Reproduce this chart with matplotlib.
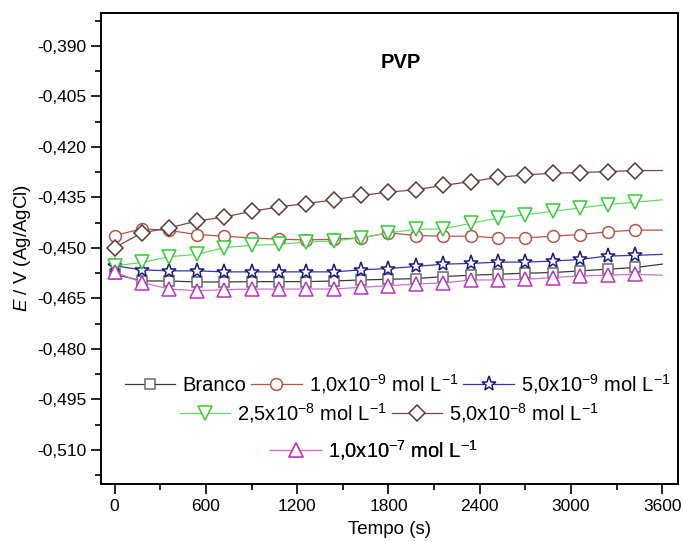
import matplotlib
matplotlib.use('Agg')
import matplotlib.pyplot as plt
from matplotlib.ticker import MultipleLocator, FuncFormatter

plt.rcParams['font.family'] = ['Liberation Sans', 'DejaVu Sans']
plt.rcParams['mathtext.fontset'] = 'custom'
plt.rcParams['mathtext.rm'] = 'Liberation Sans'
plt.rcParams['mathtext.it'] = 'Liberation Sans:italic'

# time (s), one reading every 180 s
tempo = [0, 180, 360, 540, 720, 900, 1080, 1260, 1440, 1620, 1800,
         1980, 2160, 2340, 2520, 2700, 2880, 3060, 3240, 3420, 3600]

branco = [-0.4578, -0.4598, -0.4598, -0.4601, -0.4601, -0.4600, -0.4600,
          -0.4600, -0.4598, -0.4595, -0.4593, -0.4591, -0.4585, -0.4581,
          -0.4578, -0.4575, -0.4573, -0.4568, -0.4563, -0.4558, -0.4548]
c_1e9 = [-0.4463, -0.4443, -0.4448, -0.4460, -0.4465, -0.4470, -0.4474,
         -0.4476, -0.4474, -0.4470, -0.4455, -0.4463, -0.4465, -0.4465,
         -0.4470, -0.4470, -0.4465, -0.4460, -0.4452, -0.4447, -0.4447]
c_5e9 = [-0.4553, -0.4565, -0.4568, -0.4568, -0.4571, -0.4571, -0.4571,
         -0.4571, -0.4571, -0.4565, -0.4561, -0.4555, -0.4548, -0.4546,
         -0.4542, -0.4542, -0.4539, -0.4534, -0.4524, -0.4522, -0.4519]
c_25e8 = [-0.4553, -0.4543, -0.4526, -0.4519, -0.4499, -0.4492, -0.4489,
          -0.4482, -0.4479, -0.4470, -0.4455, -0.4445, -0.4443, -0.4427,
          -0.4411, -0.4401, -0.4391, -0.4381, -0.4371, -0.4364, -0.4357]
c_5e8 = [-0.4499, -0.4455, -0.4440, -0.4420, -0.4408, -0.4391, -0.4378,
         -0.4368, -0.4357, -0.4344, -0.4334, -0.4327, -0.4314, -0.4303,
         -0.4290, -0.4283, -0.4278, -0.4276, -0.4273, -0.4270, -0.4270]
c_1e7 = [-0.4571, -0.4603, -0.4622, -0.4627, -0.4624, -0.4622, -0.4622,
         -0.4622, -0.4622, -0.4617, -0.4612, -0.4607, -0.4604, -0.4595,
         -0.4595, -0.4593, -0.4588, -0.4583, -0.4581, -0.4578, -0.4581]

labels = ['Branco',
          '1,0x10$^{-9}$ mol L$^{-1}$',
          '5,0x10$^{-9}$ mol L$^{-1}$',
          '2,5x10$^{-8}$ mol L$^{-1}$',
          '5,0x10$^{-8}$ mol L$^{-1}$',
          '1,0x10$^{-7}$ mol L$^{-1}$']

fig = plt.figure(figsize=(6.83, 5.42), dpi=100)
ax = fig.add_axes([0.1474, 0.1065, 0.8446, 0.8701])

series = [
    (branco, 's', '#3a3a3a', '#6a6a6a', 7.5),
    (c_1e9, 'o', '#b5564a', '#b5564a', 8.5),
    (c_5e9, '*', '#3838a0', '#1a1a80', 11),
    (c_25e8, 'v', '#66dd66', '#33cc33', 10),
    (c_5e8, 'D', '#7a4a40', '#5a3a34', 8),
    (c_1e7, '^', '#d070d0', '#c030c0', 10),
]

lines = []
for (vals, mk, lc, mc, ms), lab in zip(series, labels):
    ln, = ax.plot(tempo, vals, color=lc, lw=0.9, marker=mk, ms=ms,
                  mfc='white', mec=mc, mew=1.1, markevery=slice(0, 20),
                  label=lab)
    lines.append(ln)

ax.set_xlim(-92, 3700)
ax.set_ylim(-0.5202, -0.3801)

ax.xaxis.set_major_locator(MultipleLocator(600))
ax.xaxis.set_minor_locator(MultipleLocator(300))
ax.yaxis.set_major_locator(MultipleLocator(0.015))
ax.yaxis.set_minor_locator(MultipleLocator(0.0075))
ax.yaxis.set_major_formatter(FuncFormatter(lambda v, p: f'{v:.3f}'.replace('.', ',')))

ax.tick_params(which='major', direction='out', length=7, width=1.2, labelsize=12.5)
ax.tick_params(which='minor', direction='out', length=4, width=1.2)
ax.tick_params(top=False, right=False)
for s in ax.spines.values():
    s.set_linewidth(1.4)

ax.set_xlabel('Tempo (s)', fontsize=13.5, labelpad=5)
ax.set_ylabel('$\\mathit{E}$ / V (Ag/AgCl)', fontsize=13.5, labelpad=3)

ax.text(0.52, 0.895, 'PVP', transform=ax.transAxes, ha='center', va='center',
        fontsize=14.5, fontweight='bold')

# legend rows, each centred like the original
rows = [([0, 1, 2], 0.515, 0.2135), ([3, 4], 0.5006, 0.151), ([5], 0.4736, 0.0734)]
for idx, xc, yc in rows:
    leg = ax.legend([lines[i] for i in idx], [labels[i] for i in idx],
                    ncol=len(idx), loc='center', bbox_to_anchor=(xc, yc),
                    frameon=False, fontsize=14.5, handlelength=2.5,
                    handletextpad=0.35, columnspacing=0.25, borderpad=0,
                    borderaxespad=0)
    ax.add_artist(leg)

fig.savefig('out.png', dpi=100)
